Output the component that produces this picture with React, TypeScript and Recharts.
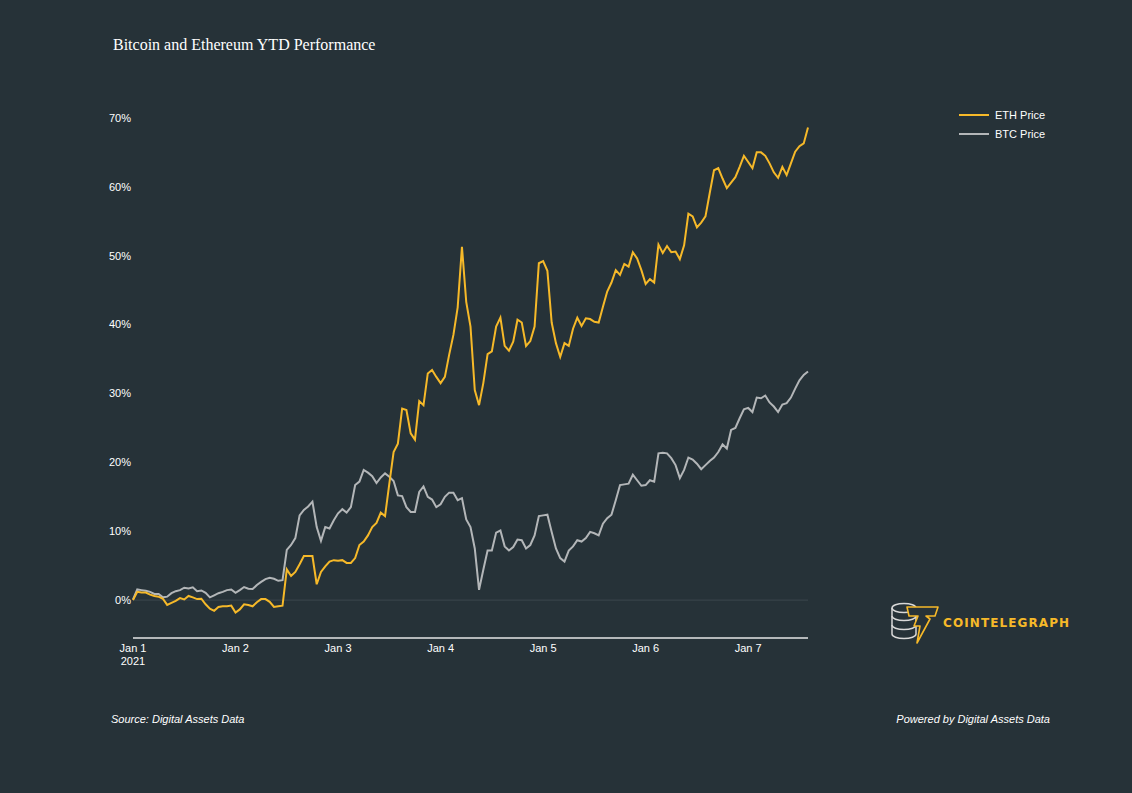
import React from 'react';
import {
  LineChart,
  Line,
  XAxis,
  YAxis,
  ReferenceLine,
} from 'recharts';

// Hourly YTD performance (%), Jan 1 00:00 through Jan 7 ~14:00
const ethPrice: number[] = [
  0, 1.2, 1.1, 1.1, 0.8, 0.6, 0.5, 0.2, -0.7, -0.4, -0.1, 0.3, 0.1, 0.6, 0.4, 0.15, 0.2, -0.6,
  -1.25, -1.55, -1.0, -0.9, -0.9, -0.8, -1.8, -1.35, -0.6, -0.7, -0.9, -0.3, 0.15, 0.15, -0.25,
  -1.0, -0.9, -0.8,
  4.45, 3.5, 4.1, 5.2, 6.4, 6.4, 6.4, 2.3, 4.1, 4.9, 5.6, 5.8, 5.7, 5.8, 5.4, 5.4, 6.1, 8.0, 8.5,
  9.4, 10.6,
  11.2, 12.7, 12.2, 16.9, 21.5, 22.7, 27.8, 27.6, 24.2, 23.3, 28.9, 28.3, 32.9, 33.4, 32.4, 31.5,
  32.4, 35.6, 38.5, 42.5, 51.3, 43.3, 39.7, 30.5, 28.3, 31.5, 35.7, 36.1, 39.7, 41.0, 36.9, 36.2,
  37.5, 40.7, 40.3, 36.9, 37.6, 39.7, 48.9, 49.2, 47.8, 40.3, 37.3, 35.3, 37.3, 36.9, 39.4, 41.0,
  39.8, 40.9, 40.8, 40.4, 40.3, 42.6, 44.8, 46.1, 47.9, 47.2, 48.8, 48.4, 50.5, 49.6, 47.9, 45.9,
  46.6, 46.1, 51.6, 50.4, 51.4, 50.5, 50.6, 49.5, 51.5, 56.1, 55.7, 54.1, 54.8, 55.7, 59.1, 62.4,
  62.7, 61.2, 59.8, 60.6, 61.4, 62.9, 64.5, 63.6, 62.7, 65.0, 65.0, 64.5, 63.4, 62.1, 61.3, 62.9,
  61.7, 63.4, 65.1, 65.9, 66.3, 68.6,
];

const btcPrice: number[] = [
  0.1, 1.55, 1.45, 1.35, 1.2, 0.9, 0.9, 0.4, 0.5, 1.0, 1.3, 1.45, 1.8, 1.7, 1.85, 1.3, 1.4, 1.05,
  0.4, 0.7, 1.0, 1.2, 1.45, 1.55, 1.05, 1.45, 1.9, 1.65, 1.6, 2.2, 2.65, 3.05, 3.25, 3.1, 2.8, 2.9,
  7.3, 8.0, 9.0, 12.3, 13.1, 13.6, 14.3, 10.6, 8.6, 10.6, 10.4, 11.6, 12.6,
  13.2, 12.7, 13.5, 16.7, 17.2, 18.9, 18.5, 18.0,
  17.0, 17.8, 18.4, 17.9, 17.3, 15.2, 15.1, 13.5, 12.8, 12.8, 15.7, 16.5, 15.0, 14.6, 13.5, 13.9,
  15.0, 15.6, 15.6, 14.5, 14.8, 11.7, 10.6, 7.5, 1.5, 4.4, 7.2, 7.2, 9.8, 10.1, 7.8, 7.2, 7.7,
  8.8, 8.7, 7.5, 8.0, 9.4, 12.2, 12.3, 12.4, 9.9, 7.5, 6.1, 5.6, 7.2, 7.8, 8.7,
  8.5, 9.0, 9.9, 9.7, 9.4, 11.1, 11.9, 12.4, 14.5, 16.7, 16.8, 16.9, 18.2, 17.4, 16.6, 16.7, 17.4,
  17.2, 21.3, 21.4, 21.3, 20.6, 19.6, 17.7, 18.9, 20.7, 20.4, 19.8, 19.0, 19.6, 20.2, 20.7, 21.5,
  22.6, 22.0, 24.7, 25.0, 26.4, 27.7, 27.9, 27.3, 29.4, 29.3, 29.7, 28.7, 28.1, 27.3, 28.4, 28.6,
  29.4, 30.7, 31.9, 32.7, 33.2,
];

const dayLabels = ['Jan 1', 'Jan 2', 'Jan 3', 'Jan 4', 'Jan 5', 'Jan 6', 'Jan 7'];
const yTicks = [0, 10, 20, 30, 40, 50, 60, 70];

const data = ethPrice.map((eth, i) => ({ hour: i, eth, btc: btcPrice[i] }));
const xTicks = dayLabels.map((_, i) => i * 24);

const BG = '#263238';
const ETH_COLOR = '#f6b929';
const BTC_COLOR = '#b3b6b8';
const FONT = '"Liberation Sans", Arial, sans-serif';

const DayTick = (props: any) => {
  const { x, y, payload } = props;
  const idx = Math.round(payload.value / 24);
  return (
    <g>
      <text x={x} y={y + 14} textAnchor="middle" fill="#ffffff" fontSize={11} fontFamily={FONT}>
        {dayLabels[idx]}
      </text>
      {idx === 0 && (
        <text x={x} y={y + 27} textAnchor="middle" fill="#ffffff" fontSize={11} fontFamily={FONT}>
          2021
        </text>
      )}
    </g>
  );
};

const legendItems = [
  { name: 'ETH Price', color: ETH_COLOR },
  { name: 'BTC Price', color: BTC_COLOR },
];

const ChartLegend = () => (
  <div style={{ position: 'absolute', left: 959, top: 105 }}>
    {legendItems.map((it) => (
      <div
        key={it.name}
        style={{ display: 'flex', alignItems: 'center', height: 19, fontFamily: FONT, fontSize: 11, color: '#fff' }}
      >
        <span style={{ display: 'inline-block', width: 30, height: 2, background: it.color, marginRight: 6 }} />
        {it.name}
      </div>
    ))}
  </div>
);

const Logo = () => (
  <div style={{ position: 'absolute', left: 888, top: 600, display: 'flex', alignItems: 'center' }}>
    <svg width={52} height={45} viewBox="0 0 52 45">
      <g fill="none" stroke="#d8d8d8" strokeWidth={1.5}>
        <ellipse cx={16} cy={8} rx={12} ry={4.5} />
        <path d="M4 8 V34" />
        <path d="M28 8 V34" />
        <path d="M4 16 A12 4.5 0 0 0 28 16" />
        <path d="M4 25 A12 4.5 0 0 0 28 25" />
        <path d="M4 34 A12 4.5 0 0 0 28 34" />
      </g>
      <polygon
        points="19,7 50,7 47,16 38,16 42,19 29,43 32,26 26,26 30,16 21,16"
        fill={BG}
        stroke={ETH_COLOR}
        strokeWidth={1.6}
        strokeLinejoin="round"
      />
    </svg>
    <span
      style={{
        marginLeft: 3,
        color: ETH_COLOR,
        fontFamily: '"DejaVu Sans", sans-serif',
        fontWeight: 'bold',
        fontSize: 12,
        letterSpacing: 1.1,
      }}
    >
      COINTELEGRAPH
    </span>
  </div>
);

export default function App() {
  return (
    <div style={{ position: 'fixed', left: 0, top: 0, width: 1132, height: 793, background: BG, overflow: 'hidden' }}>
      <div
        style={{
          position: 'absolute',
          left: 113,
          top: 36,
          color: '#fff',
          fontFamily: '"Liberation Serif", "Times New Roman", serif',
          fontSize: 16,
        }}
      >
        Bitcoin and Ethereum YTD Performance
      </div>
      <LineChart
        width={1132}
        height={793}
        data={data}
        margin={{ top: 100, right: 324, bottom: 125, left: 73 }}
      >
        <XAxis
          dataKey="hour"
          type="number"
          domain={[0, 158]}
          ticks={xTicks}
          tick={<DayTick />}
          tickLine={false}
          tickSize={0}
          tickMargin={0}
          height={30}
          axisLine={{ stroke: '#b4b8ba', strokeWidth: 2 }}
          interval={0}
        />
        <YAxis
          type="number"
          domain={[-5.5, 72.6]}
          ticks={yTicks}
          tickFormatter={(v: number) => `${v}%`}
          tick={{ fill: '#ffffff', fontSize: 11, fontFamily: FONT }}
          axisLine={false}
          tickLine={false}
          tickSize={0}
          tickMargin={2}
          width={60}
          interval={0}
        />
        <ReferenceLine y={0} stroke="#3c474d" strokeWidth={1} />
        <Line
          type="linear"
          dataKey="btc"
          name="BTC Price"
          stroke={BTC_COLOR}
          strokeWidth={2}
          dot={false}
          isAnimationActive={false}
        />
        <Line
          type="linear"
          dataKey="eth"
          name="ETH Price"
          stroke={ETH_COLOR}
          strokeWidth={2}
          dot={false}
          isAnimationActive={false}
        />
      </LineChart>
      <ChartLegend />
      <div
        style={{ position: 'absolute', left: 111, top: 713, color: '#fff', fontFamily: FONT, fontSize: 11, fontStyle: 'italic' }}
      >
        Source: Digital Assets Data
      </div>
      <div
        style={{ position: 'absolute', right: 82, top: 713, color: '#fff', fontFamily: FONT, fontSize: 11, fontStyle: 'italic' }}
      >
        Powered by Digital Assets Data
      </div>
      <Logo />
    </div>
  );
}
